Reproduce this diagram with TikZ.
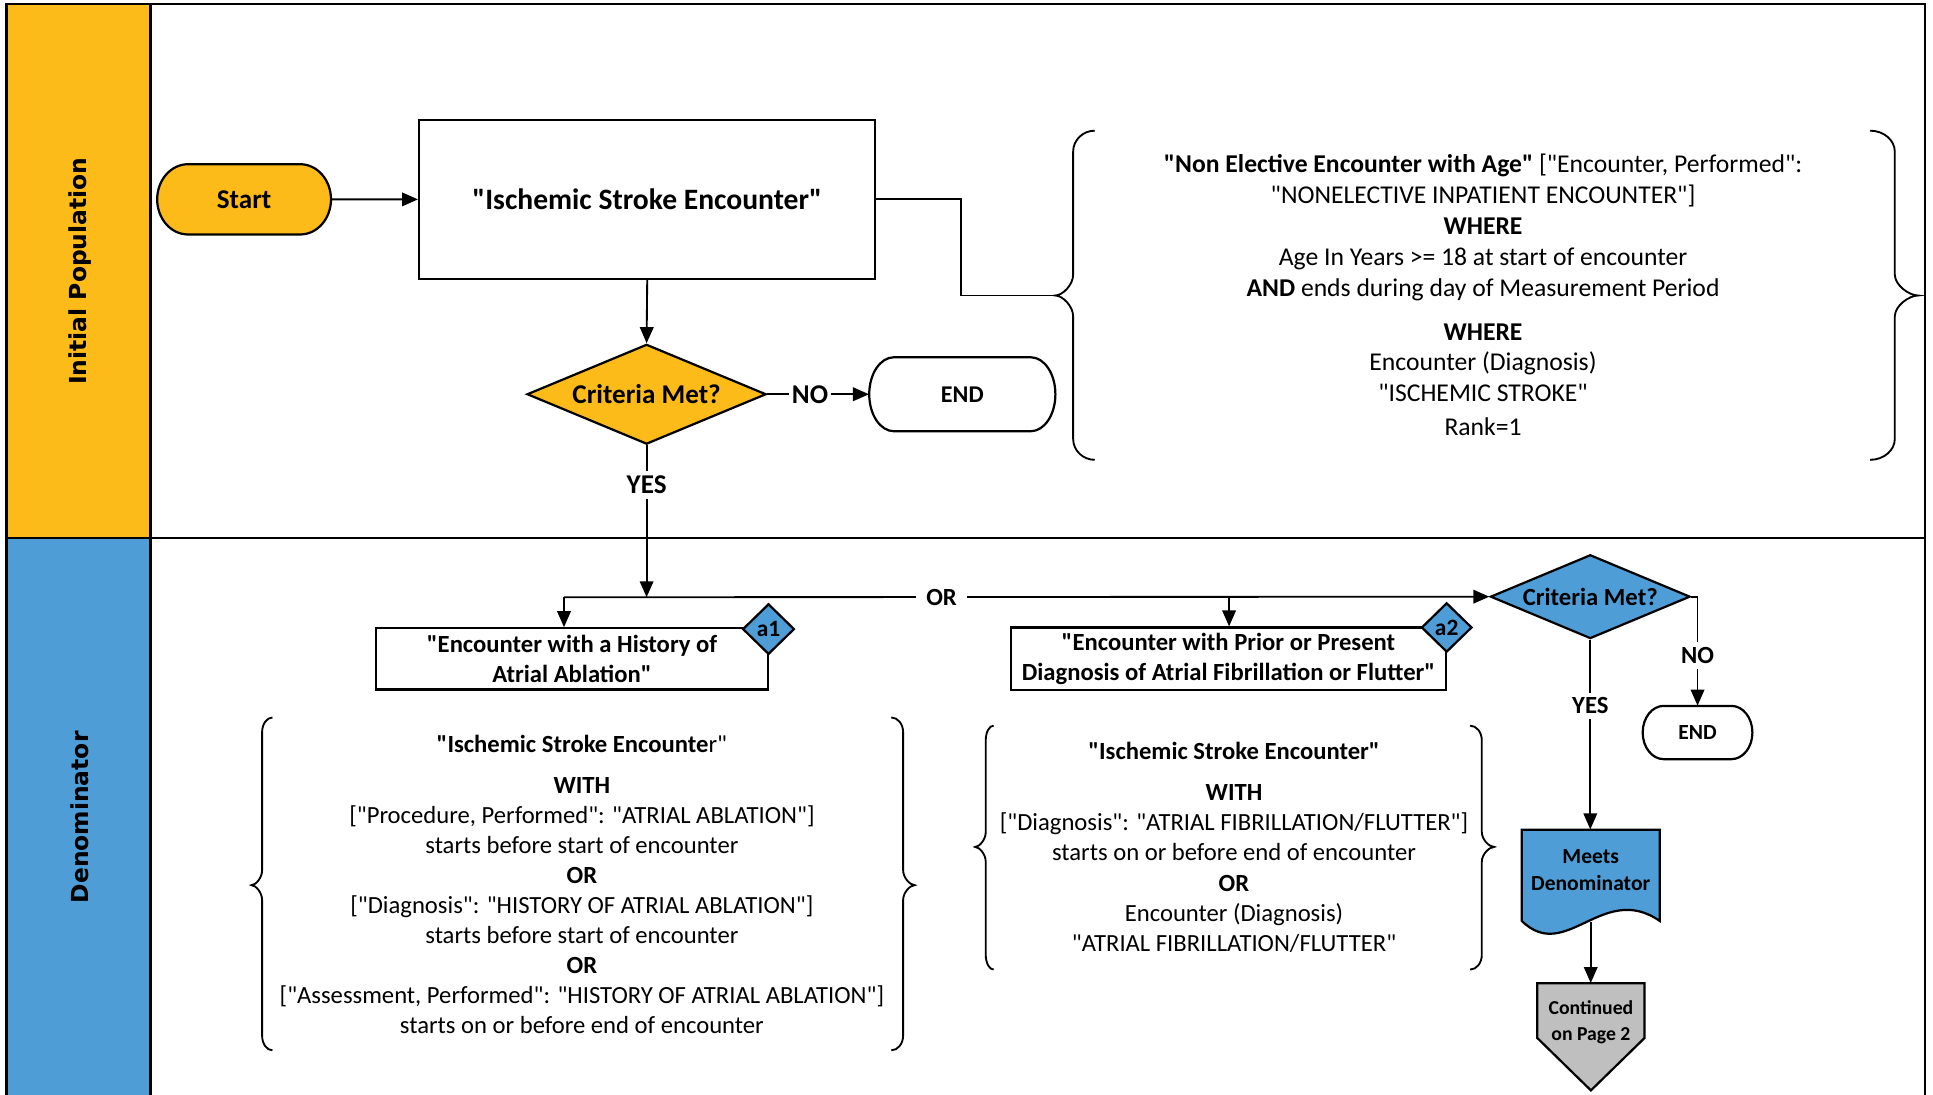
\documentclass[tikz,border=0pt]{standalone}
\usepackage{fontspec}
\setmainfont{Carlito}[Ligatures=TeXOff]
\newfontfamily\lanefont{DejaVu Sans}
\usetikzlibrary{shapes.geometric,arrows.meta,calc}
\definecolor{ipyellow}{HTML}{FDBB1A}
\definecolor{denblue}{HTML}{4E9DD7}
\definecolor{contgray}{HTML}{BFBFBF}
\newcommand\fs[2]{\fontsize{#1}{#2}\selectfont}
% cx, cy, w, h, rx, fill
\newcommand\stadium[6]{\filldraw[line width=1.8, fill=#6] ({#1-#3/2+#5},{#2-#4/2}) -- ({#1+#3/2-#5},{#2-#4/2}) arc[start angle=-90,end angle=90,x radius=#5,y radius={#4/2}] -- ({#1-#3/2+#5},{#2+#4/2}) arc[start angle=90,end angle=270,x radius=#5,y radius={#4/2}] -- cycle;}
% tip x, vertical x, curl x, top y, bottom y, tip y, r
\newcommand\curlybrace[7]{\draw[line width=1.5] (#3,#4) .. controls ({#2+0.45*(#3-#2)},#4) and (#2,{#4+0.45*#7}) .. (#2,{#4+#7})
 -- (#2,{#6-#7}) .. controls (#2,{#6-0.5*#7}) and ({#1+0.4*(#2-#1)},#6) .. (#1,#6)
 .. controls ({#1+0.4*(#2-#1)},#6) and (#2,{#6+0.5*#7}) .. (#2,{#6+#7})
 -- (#2,{#5-#7}) .. controls (#2,{#5-0.45*#7}) and ({#2+0.45*(#3-#2)},#5) .. (#3,#5);}
\begin{document}
\begin{tikzpicture}[x=1pt,y=-1pt,
 arr/.style={line width=1.5, -{Triangle[length=13pt,width=11pt]}},
 conn/.style={line width=1.5},
 boxst/.style={draw, line width=1.8, fill=white, inner sep=0, align=center},
 txt/.style={inner sep=0, align=center},
 lbl/.style={fill=white, inner sep=4, font=\bfseries\fs{22}{26}},
 lbls/.style={fill=white, inner sep=4, font=\bfseries\fs{20}{24}},
 lanelbl/.style={rotate=90, font=\lanefont\bfseries\fs{19}{23}},
 dia/.style={diamond, draw, line width=1.8, inner sep=0}]
\useasboundingbox (0,0) rectangle (1568,888);
% lanes
\fill[ipyellow] (5.4,3.4) rectangle (122,436.3);
\fill[denblue] (5.4,436.3) rectangle (122,900);
\draw[line width=2] (5.4,3.4) rectangle (1561.5,900);
\draw[line width=2] (122,3.4) -- (122,900);
\draw[line width=2] (5.4,436.3) -- (1561.5,436.3);
\node[lanelbl] (lane1) at (65,220) {Initial Population};
\node[lanelbl] (lane2) at (64.6,663) {Denominator};
% custom shapes
\stadium{198}{161.7}{141}{57}{25}{ipyellow}
\stadium{780.6}{319.8}{151}{60}{20}{white}
\stadium{1377}{594.2}{89}{43.2}{17}{white}
\filldraw[line width=1.8, fill=denblue] (1234.4,673) -- (1346.3,673) -- (1346.3,747) .. controls (1300,715) and (1270,782) .. (1234.4,747) -- cycle;
\filldraw[line width=1.8, fill=contgray] (1247,797.6) -- (1334,797.6) -- (1334,842) -- (1290.5,884.5) -- (1247,842) -- cycle;
% braces
\curlybrace{856}{870.5}{888}{106}{373}{239.7}{17}
\curlybrace{1556}{1537}{1517}{106}{373}{239.7}{17}
\curlybrace{204}{212.6}{221}{582}{852}{718}{12}
\curlybrace{742}{732.6}{723}{582}{852}{718}{12}
\curlybrace{791}{799.6}{806}{588.6}{786.5}{687}{12}
\curlybrace{1212}{1202}{1192.5}{588.6}{786.5}{687}{12}
% nodes
\node[txt, font=\bfseries\fs{22}{26}, minimum width=141, minimum height=57] (start) at (198,161.7) {Start};
\node[boxst, minimum width=370, minimum height=129, font=\bfseries\fs{24}{28}] (box) at (525,161.75) {"Ischemic Stroke Encounter"};
\node[dia, fill=ipyellow, minimum width=194, minimum height=81, aspect=2.4, font=\bfseries\fs{22}{26}] (crit1) at (524.5,319.8) {Criteria Met?};
\node[txt, font=\bfseries\fs{19.5}{23}, minimum width=151, minimum height=60] (end1) at (780.6,319.8) {END};
\coordinate (tipA) at (856,239.7);
\node[txt, font=\fs{20.8}{25.1}] (toptext) at (1203,239.2) {\textbf{"Non Elective Encounter with Age"} ["Encounter, Performed":\\
"NONELECTIVE INPATIENT ENCOUNTER"]\\
\textbf{WHERE}\\
Age In Years >= 18 at start of encounter\\
\textbf{AND} ends during day of Measurement Period\\[10.4pt]
\textbf{WHERE}\\
Encounter (Diagnosis)\\
"ISCHEMIC STROKE"\\[2.2pt]
Rank=1};
% lower nodes
\coordinate (j) at (524.5,484.5);
\coordinate (jl) at (457.5,484.5);
\coordinate (j2) at (997,484.5);
\node[boxst, minimum width=318, minimum height=49.7, font=\bfseries\fs{20}{24}] (a1) at (464,534.5) {"Encounter with a History of\\Atrial Ablation"};
\node[dia, fill=denblue, minimum width=42, minimum height=41, aspect=1, font=\bfseries\fs{19}{22}] (a1d) at (623.4,510.3) {a1};
\node[boxst, minimum width=353, minimum height=51, font=\bfseries\fs{20}{24}] (a2) at (996.5,534.5) {"Encounter with Prior or Present\\Diagnosis of Atrial Fibrillation or Flutter"};
\node[dia, fill=denblue, minimum width=41, minimum height=40, aspect=1, font=\bfseries\fs{19}{22}] (a2d) at (1173.5,509) {a2};
\node[dia, fill=denblue, minimum width=162, minimum height=68, aspect=2.38, font=\bfseries\fs{20}{24}] (crit2) at (1290,484) {Criteria Met?};
\node[txt, font=\bfseries\fs{17.5}{21}, minimum width=89, minimum height=43.2] (end2) at (1377,594.2) {END};
\node[txt, font=\bfseries\fs{17.5}{22}, minimum width=112, minimum height=66] (meets) at (1290.35,706) {Meets\\Denominator};
\coordinate (meetsout) at (1290.35,748);
\node[txt, font=\bfseries\fs{16}{21}, minimum width=87, minimum height=63.8] (cont) at (1290.5,829.5) {Continued\\on Page 2};
\node[txt, font=\fs{20}{24.4}] (text1) at (472,717.4) {\textbf{"Ischemic Stroke Encounte}r"\\[8.7pt]
\textbf{WITH}\\
{}["Procedure, Performed": "ATRIAL ABLATION"]\\
starts before start of encounter\\
\textbf{OR}\\
{}["Diagnosis": "HISTORY OF ATRIAL ABLATION"]\\
starts before start of encounter\\
\textbf{OR}\\
{}["Assessment, Performed": "HISTORY OF ATRIAL ABLATION"]\\
starts on or before end of encounter};
\node[txt, font=\fs{20}{24.5}] (text2) at (1001,687.2) {\textbf{"Ischemic Stroke Encounter"}\\[9pt]
\textbf{WITH}\\
{}["Diagnosis": "ATRIAL FIBRILLATION/FLUTTER"]\\
starts on or before end of encounter\\
\textbf{OR}\\
Encounter (Diagnosis)\\
"ATRIAL FIBRILLATION/FLUTTER"};
% connectors
\draw[arr] (start.east) -- (box.west);
\draw[conn] (box.east) -- ++(68.5,0) |- (tipA);
\draw[arr] (box.south) -- (crit1.north);
\draw[arr] (crit1.east) -- node[lbl, pos=0.42, inner xsep=2] {NO} (end1.west);
\draw[arr] (crit1.south) -- node[lbl, pos=0.26] {YES} (j);
\draw[arr] (jl) -- node[lbls, pos=0.408, inner xsep=8] {OR} (crit2.west);
\draw[arr] (jl) -- (jl |- a1.north);
\draw[arr] (j2) -- (j2 |- a2.north);
\draw[arr] (crit2.east) -| node[lbls, pos=0.77] {NO} (end2.north);
\draw[arr] (crit2.south) -- node[lbls, pos=0.348] {YES} (crit2.south |- meets.north);
\draw[arr] (meetsout) -- (meetsout |- cont.north);
\end{tikzpicture}
\end{document}
